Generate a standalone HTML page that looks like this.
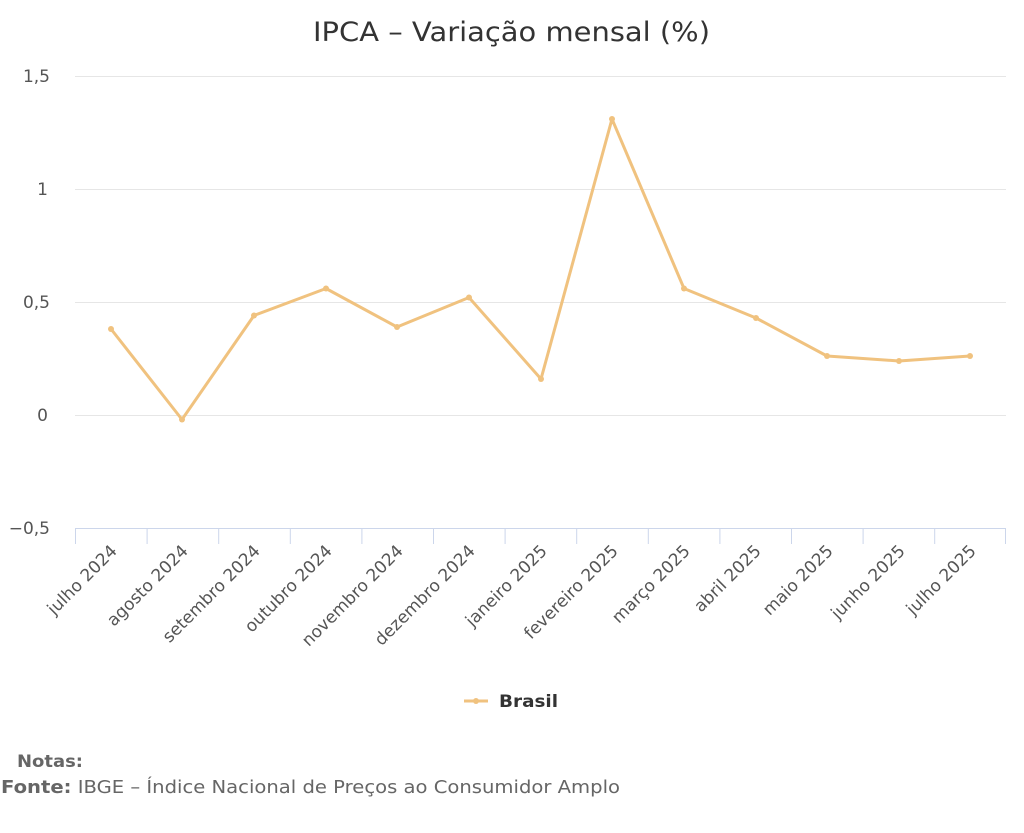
<!DOCTYPE html>
<html><head><meta charset="utf-8"><style>
body{margin:0;background:#fff;}
svg text{font-family:"DejaVu Sans",sans-serif;}
</style></head><body>
<svg width="1024" height="828" viewBox="0 0 1024 828" xmlns="http://www.w3.org/2000/svg">
<text x="313" y="41" font-size="27" fill="#333" textLength="397" lengthAdjust="spacingAndGlyphs">IPCA – Variação mensal (%)</text>
<g stroke="#e6e6e6" stroke-width="1">
<line x1="75" x2="1006" y1="76.5" y2="76.5"/>
<line x1="75" x2="1006" y1="189.5" y2="189.5"/>
<line x1="75" x2="1006" y1="302.5" y2="302.5"/>
<line x1="75" x2="1006" y1="415.5" y2="415.5"/>
</g>
<line x1="75" x2="1006" y1="528.5" y2="528.5" stroke="#ccd6eb"/>
<g stroke="#ccd6eb">
<line x1="75.5" x2="75.5" y1="528" y2="544"/><line x1="147.1" x2="147.1" y1="528" y2="544"/><line x1="218.7" x2="218.7" y1="528" y2="544"/><line x1="290.3" x2="290.3" y1="528" y2="544"/><line x1="361.9" x2="361.9" y1="528" y2="544"/><line x1="433.5" x2="433.5" y1="528" y2="544"/><line x1="505.1" x2="505.1" y1="528" y2="544"/><line x1="576.7" x2="576.7" y1="528" y2="544"/><line x1="648.3" x2="648.3" y1="528" y2="544"/><line x1="719.9" x2="719.9" y1="528" y2="544"/><line x1="791.5" x2="791.5" y1="528" y2="544"/><line x1="863.1" x2="863.1" y1="528" y2="544"/><line x1="934.7" x2="934.7" y1="528" y2="544"/><line x1="1005.5" x2="1005.5" y1="528" y2="544"/>
</g>
<g font-size="17" fill="#555" text-anchor="end">
<text x="50" y="82">1,5</text><text x="48" y="195">1</text><text x="50" y="308">0,5</text><text x="48" y="421">0</text><text x="50" y="534">−0,5</text>
</g>
<g font-size="17" fill="#555" text-anchor="end">
<text transform="translate(118,552) rotate(-45)">julho 2024</text>
<text transform="translate(189,552) rotate(-45)">agosto 2024</text>
<text transform="translate(261,552) rotate(-45)">setembro 2024</text>
<text transform="translate(333,552) rotate(-45)">outubro 2024</text>
<text transform="translate(404,552) rotate(-45)">novembro 2024</text>
<text transform="translate(476,552) rotate(-45)">dezembro 2024</text>
<text transform="translate(548,552) rotate(-45)">janeiro 2025</text>
<text transform="translate(619,552) rotate(-45)">fevereiro 2025</text>
<text transform="translate(691,552) rotate(-45)">março 2025</text>
<text transform="translate(762,552) rotate(-45)">abril 2025</text>
<text transform="translate(834,552) rotate(-45)">maio 2025</text>
<text transform="translate(906,552) rotate(-45)">junho 2025</text>
<text transform="translate(977,552) rotate(-45)">julho 2025</text>
</g>
<polyline fill="none" stroke="#f0c27f" stroke-width="3" stroke-linejoin="round" points="111,329 182,419.5 254,315.5 326,288.5 397,327 469,297.5 541,379 612,119 684,288.5 756,318 827,356 899,361 970,356"/>
<g fill="#f0c27f">
<circle cx="111" cy="329" r="3"/><circle cx="182" cy="419.5" r="3"/><circle cx="254" cy="315.5" r="3"/><circle cx="326" cy="288.5" r="3"/><circle cx="397" cy="327" r="3"/><circle cx="469" cy="297.5" r="3"/><circle cx="541" cy="379" r="3"/><circle cx="612" cy="119" r="3"/><circle cx="684" cy="288.5" r="3"/><circle cx="756" cy="318" r="3"/><circle cx="827" cy="356" r="3"/><circle cx="899" cy="361" r="3"/><circle cx="970" cy="356" r="3"/>
</g>
<line x1="464" x2="488" y1="701" y2="701" stroke="#f0c27f" stroke-width="3"/>
<circle cx="476" cy="701" r="3" fill="#f0c27f"/>
<text x="499" y="707" font-size="17" font-weight="bold" fill="#333" textLength="59" lengthAdjust="spacingAndGlyphs">Brasil</text>
<text x="17" y="767" font-size="17" font-weight="bold" fill="#666" textLength="66" lengthAdjust="spacingAndGlyphs">Notas:</text>
<text x="1" y="793" font-size="18" fill="#666" textLength="619" lengthAdjust="spacingAndGlyphs"><tspan font-weight="bold">Fonte:</tspan> IBGE – Índice Nacional de Preços ao Consumidor Amplo</text>
</svg>
</body></html>
